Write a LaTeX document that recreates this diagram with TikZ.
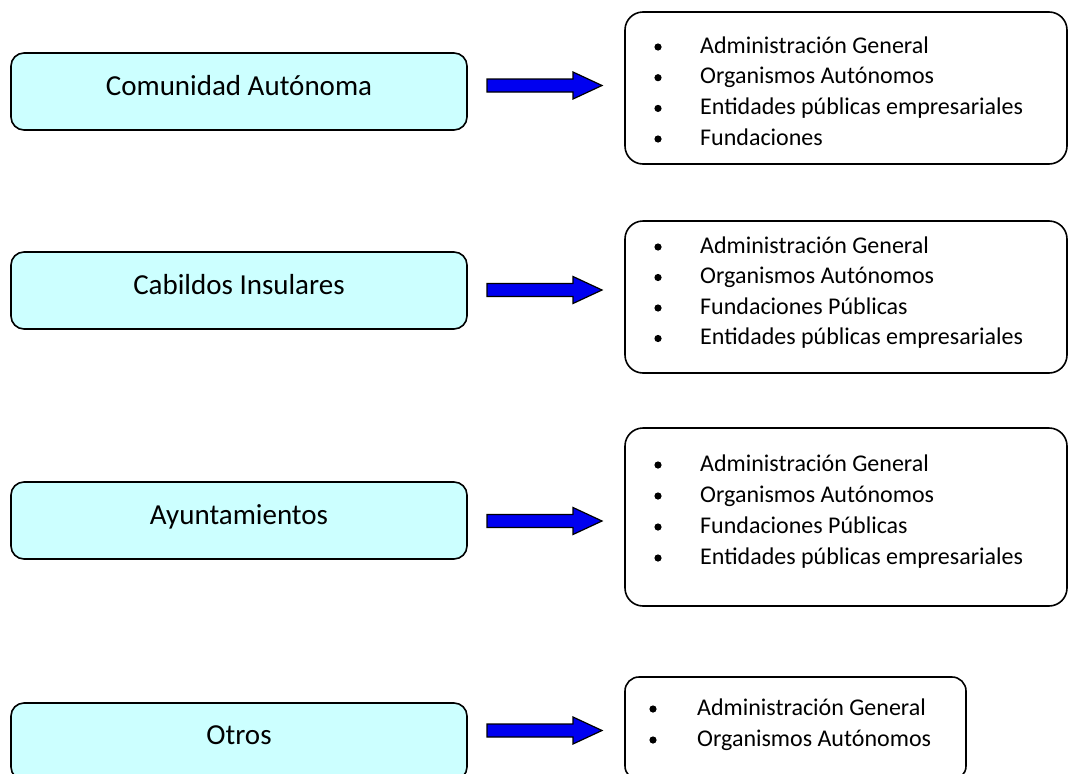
\documentclass[tikz,border=0pt]{standalone}
\usepackage{fontspec}
\setmainfont{Carlito}
\definecolor{boxfill}{HTML}{CCFFFF}
\definecolor{arrowblue}{RGB}{0,0,240}
\tikzset{
  lbox/.style={draw=black, line width=1.6pt, fill=boxfill, rounded corners=13pt,
    minimum width=456pt, minimum height=77pt, inner sep=0pt},
  rbox/.style={draw=black, line width=1.6pt, rounded corners=18pt, inner sep=0pt},
  ltext/.style={font=\fontsize{29}{35}\selectfont, inner sep=0pt, anchor=base},
  itext/.style={font=\fontsize{24}{29}\selectfont, inner sep=0pt, anchor=base west},
  barrow/.style={draw=black, line width=1.2pt, fill=arrowblue, line join=miter},
  bul/.style={fill=black}
}
\newcommand{\blockarrow}[1]{%
  \draw[barrow] (487,#1-6.5) -- (573,#1-6.5) -- (573,#1-13.5) -- (602,#1)
    -- (573,#1+13.5) -- (573,#1+6.5) -- (487,#1+6.5) -- cycle;}
\begin{document}
\begin{tikzpicture}[x=1pt,y=-1pt]
\useasboundingbox (0,0) rectangle (1069,774);
\clip (0,0) rectangle (1069,774);

% left boxes
\node[lbox] (ca) at (239,91.5) {};
\node[ltext] (catext) at (239,95.5) {Comunidad Autónoma};
\node[lbox] (ci) at (239,290.5) {};
\node[ltext] (citext) at (239,294.5) {Cabildos Insulares};
\node[lbox] (ay) at (239,520.5) {};
\node[ltext] (aytext) at (239,524.5) {Ayuntamientos};
\node[lbox] (ot) at (239,741.5) {};
\node[ltext] (ottext) at (239,744.5) {Otros};

% arrows
\blockarrow{85.5}
\blockarrow{290}
\blockarrow{521}
\blockarrow{730.5}

% right boxes
\draw[rbox] (625,12) rectangle (1067,164);
\draw[rbox] (625,221) rectangle (1067,373);
\draw[rbox] (625,428) rectangle (1067,606);
\draw[rbox, rounded corners=14pt] (625,677) rectangle (966,780);

% list 1
\node[itext] (a1) at (700,53) {Administración General};
\node[itext] (a2) at (700,83.7) {Organismos Autónomos};
\node[itext] (a3) at (700,114.4) {Entidades públicas empresariales};
\node[itext] (a4) at (700,145) {Fundaciones};
\foreach \y in {53,83.7,114.4,145} \fill[bul] (658,\y-6) circle (3.6);

% list 2
\node[itext] (b1) at (700,253) {Administración General};
\node[itext] (b2) at (700,283.5) {Organismos Autónomos};
\node[itext] (b3) at (700,314) {Fundaciones Públicas};
\node[itext] (b4) at (700,344.5) {Entidades públicas empresariales};
\foreach \y in {253,283.5,314,344.5} \fill[bul] (658,\y-6) circle (3.6);

% list 3
\node[itext] (c1) at (700,471) {Administración General};
\node[itext] (c2) at (700,502) {Organismos Autónomos};
\node[itext] (c3) at (700,533) {Fundaciones Públicas};
\node[itext] (c4) at (700,564) {Entidades públicas empresariales};
\foreach \y in {471,502,533,564} \fill[bul] (658,\y-6) circle (3.6);

% list 4
\node[itext] (d1) at (697,715) {Administración General};
\node[itext] (d2) at (697,746) {Organismos Autónomos};
\foreach \y in {715,746} \fill[bul] (653,\y-6) circle (3.6);
\end{tikzpicture}
\end{document}
